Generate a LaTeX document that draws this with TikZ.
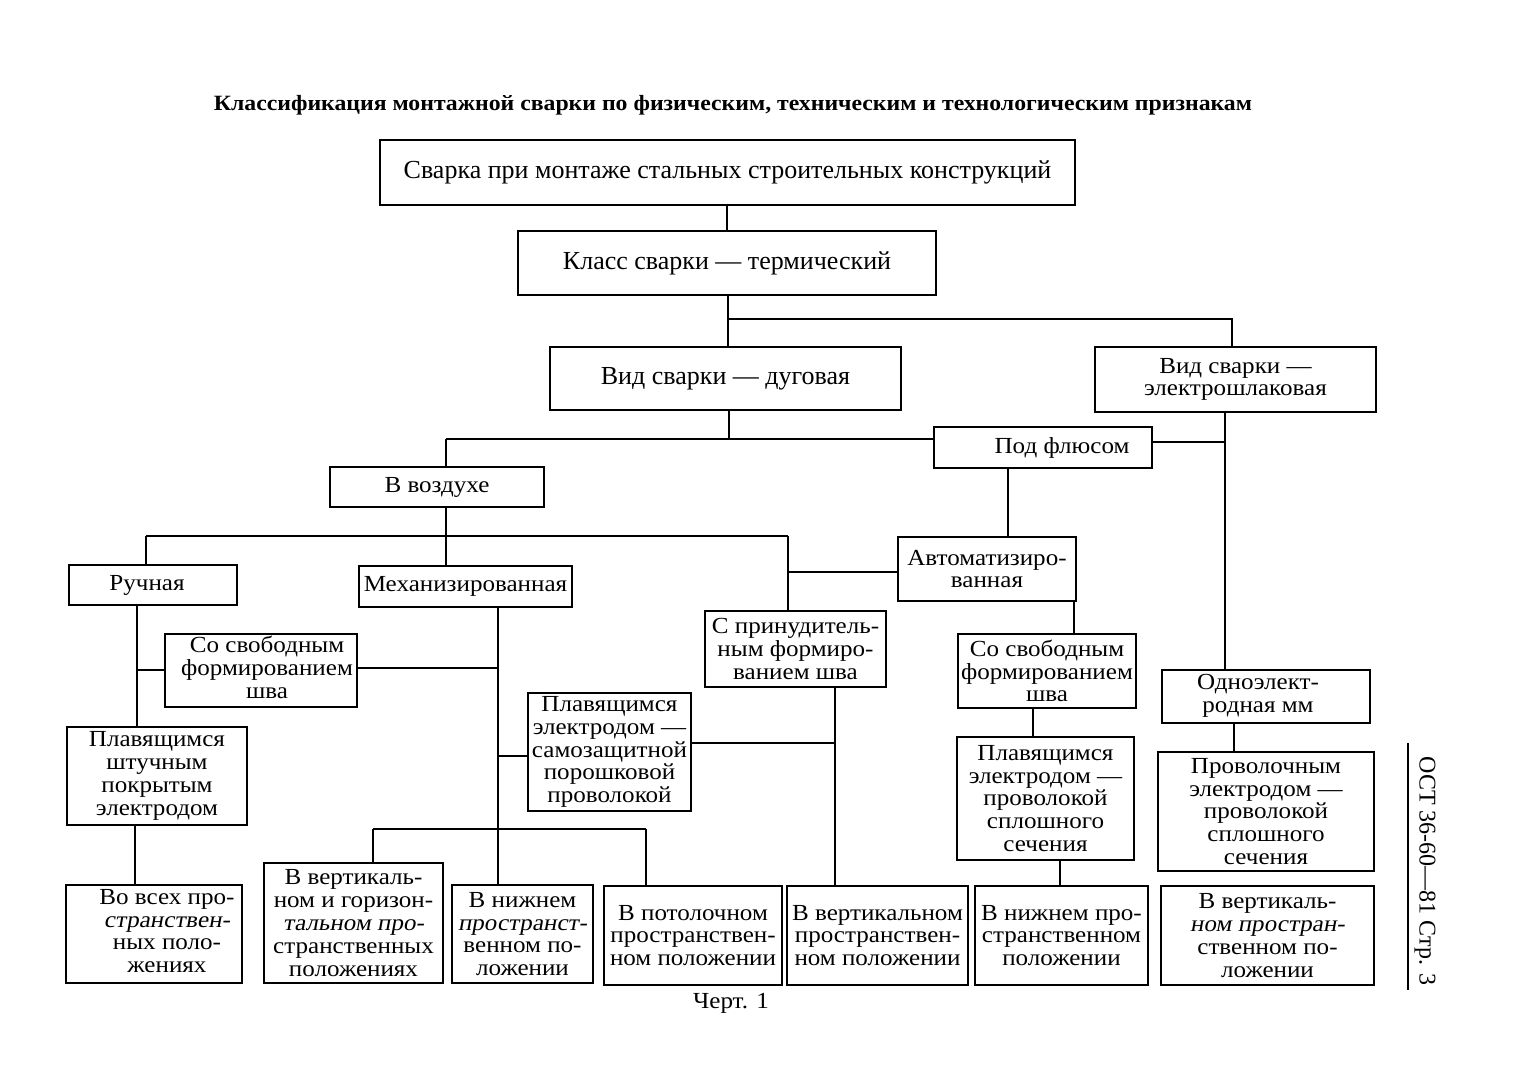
\documentclass[tikz,border=0pt]{standalone}
\usepackage{fontspec}
\setmainfont[FakeStretch=1.09]{Liberation Serif}
\newfontfamily\bigfont{Liberation Serif}
\newfontfamily\slfont[FakeSlant=0.18,FakeStretch=1.09]{Liberation Serif}
\usetikzlibrary{calc}
\newcommand\mybox[7][]{%
  \pgfmathsetmacro\bxcx{(#3+#5)/2}%
  \pgfmathsetmacro\bxcy{(#4+#6)/2}%
  \pgfmathsetmacro\bxw{(#5-#3)*0.5}%
  \pgfmathsetmacro\bxh{(#6-#4)*0.5}%
  \node[bx,minimum width=\bxw pt,minimum height=\bxh pt,#1] (#2) at (\bxcx,\bxcy) {#7};}
\newcommand\tx[1]{\begin{tabular}{@{}c@{}}#1\end{tabular}}
\begin{document}
\begin{tikzpicture}[x=0.5pt,y=-0.5pt,line width=1.15pt,
  bx/.style={draw,inner sep=0pt,align=center,font=\fontsize{11.5}{11.4}\selectfont},
  big/.style={font=\bigfont\fontsize{13}{15}\selectfont},
  lbl/.style={inner sep=0pt,font=\fontsize{11.5}{13}\selectfont}]
\useasboundingbox (0,0) rectangle (1521,1080);
\fill[white] (0,0) rectangle (1521,1080);

\node[lbl,font=\bfseries\fontsize{10.9}{13}\selectfont] (title) at (733,105)
  {Классификация монтажной сварки по физическим, техническим и технологическим признакам};

\mybox[big]{A}{380}{140}{1075}{205}{Сварка при монтаже стальных строительных конструкций}
\mybox[big]{B}{518}{231}{936}{295}{Класс сварки — термический}
\mybox[big]{C}{550}{347}{901}{410}{Вид сварки — дуговая}
\mybox{D}{1095}{347}{1376}{412}{Вид сварки —\\электрошлаковая}
\mybox{E}{934}{427}{1152}{468}{\hspace*{19pt}Под флюсом}
\mybox{F}{330}{467}{544}{507}{В воздухе}
\mybox{G}{898}{537}{1076}{601}{Автоматизиро-\\ванная}
\mybox{U}{69}{565}{237}{605}{Ручная\hspace*{6pt}}
\mybox{V}{359}{566}{572}{607}{Механизированная}
\mybox{H}{705}{611}{886}{687}{С принудитель-\\ным формиро-\\ванием шва}
\mybox{S}{165}{634}{357}{707}{\hspace*{6pt}\tx{Со свободным\\формированием\\шва}}
\mybox{I}{958}{634}{1136}{708}{Со свободным\\формированием\\шва}
\mybox{K}{1162}{670}{1370}{723}{\tx{Одноэлект-\\родная мм}\hspace*{8pt}}
\mybox{O}{528}{693}{691}{811}{Плавящимся\\электродом —\\самозащитной\\порошковой\\проволокой}
\mybox{W}{67}{727}{247}{825}{Плавящимся\\штучным\\покрытым\\электродом}
\mybox{J}{957}{737}{1134}{860}{Плавящимся\\электродом —\\проволокой\\сплошного\\сечения}
\mybox{L}{1158}{752}{1374}{871}{Проволочным\\электродом —\\проволокой\\сплошного\\сечения}
\mybox{T}{264}{863}{443}{983}{В вертикаль-\\ном и горизон-\\{\slfont тальном про-}\\странственных\\положениях}
\mybox{X}{66}{885}{242}{983}{\hspace*{13pt}\tx{Во всех про-\\{\slfont странствен-}\\ных поло-\\жениях}}
\mybox{P}{452}{885}{593}{983}{В нижнем\\{\slfont пространст-}\\венном по-\\ложении}
\mybox{Q}{604}{886}{782}{985}{В потолочном\\пространствен-\\ном положении}
\mybox{R}{787}{886}{968}{985}{В вертикальном\\пространствен-\\ном положении}
\mybox{N}{975}{886}{1148}{985}{В нижнем про-\\странственном\\положении}
\mybox{M}{1161}{886}{1374}{985}{В вертикаль-\\{\slfont ном простран-}\\ственном по-\\ложении}

\node[lbl] (chert) at (731,1003) {Черт. 1};
\node[lbl,rotate=-90,font=\bigfont\fontsize{12}{14}\selectfont] (ost) at (1425,871) {ОСТ 36-60—81 Стр. 3};
\draw (1408,743) -- (1408,990);

% junction coordinates
\coordinate (vAB) at (727,0);
\coordinate (vBC) at (728,319);
\coordinate (vD) at (1232,319);
\coordinate (vC) at (729,439);
\coordinate (jF) at (446,439);
\coordinate (hE) at (0,442);
\coordinate (vDK) at (1225,0);
\coordinate (vEG) at (1008,0);
\coordinate (jF2) at (446,536);
\coordinate (jU) at (146,536);
\coordinate (jH) at (788,536);
\coordinate (hG) at (0,572);
\coordinate (vGI) at (1074,0);
\coordinate (vIJ) at (1033,0);
\coordinate (vJN) at (1060,0);
\coordinate (vKL) at (1234,0);
\coordinate (vUW) at (137,0);
\coordinate (hS) at (0,670);
\coordinate (hS2) at (0,668);
\coordinate (vV) at (498,0);
\coordinate (hO) at (0,756);
\coordinate (hO2) at (0,743);
\coordinate (jT) at (373,829);
\coordinate (jQ) at (646,829);
\coordinate (vHR) at (835,0);
\coordinate (vWX) at (135,0);

\draw (A.south -| vAB) -- (B.north -| vAB);
\draw (B.south -| vBC) -- (C.north -| vBC);
\draw (vBC) -- (vD) -- (D.north -| vD);
\draw (C.south -| vC) -- (vC);
\draw (jF) -- (jF -| E.west);
\draw (jF) -- (F.north -| jF);
\draw (E.east |- hE) -- (vDK |- hE);
\draw (D.south -| vDK) -- (K.north -| vDK);
\draw (E.south -| vEG) -- (G.north -| vEG);
\draw (F.south -| jF2) -- (jF2);
\draw (jU) -- (jH);
\draw (jU) -- (U.north -| jU);
\draw (jF2) -- (V.north -| jF2);
\draw (jH) -- (H.north -| jH);
\draw (jH |- hG) -- (G.west |- hG);
\draw (G.south -| vGI) -- (I.north -| vGI);
\draw (I.south -| vIJ) -- (J.north -| vIJ);
\draw (J.south -| vJN) -- (N.north -| vJN);
\draw (K.south -| vKL) -- (L.north -| vKL);
\draw (U.south -| vUW) -- (W.north -| vUW);
\draw (vUW |- hS) -- (S.west |- hS);
\draw (S.east |- hS2) -- (vV |- hS2);
\draw (V.south -| vV) -- (P.north -| vV);
\draw (vV |- hO) -- (O.west |- hO);
\draw (jT) -- (jQ);
\draw (jT) -- (T.north -| jT);
\draw (jQ) -- (Q.north -| jQ);
\draw (H.south -| vHR) -- (R.north -| vHR);
\draw (O.east |- hO2) -- (vHR |- hO2);
\draw (W.south -| vWX) -- (X.north -| vWX);
\end{tikzpicture}
\end{document}
